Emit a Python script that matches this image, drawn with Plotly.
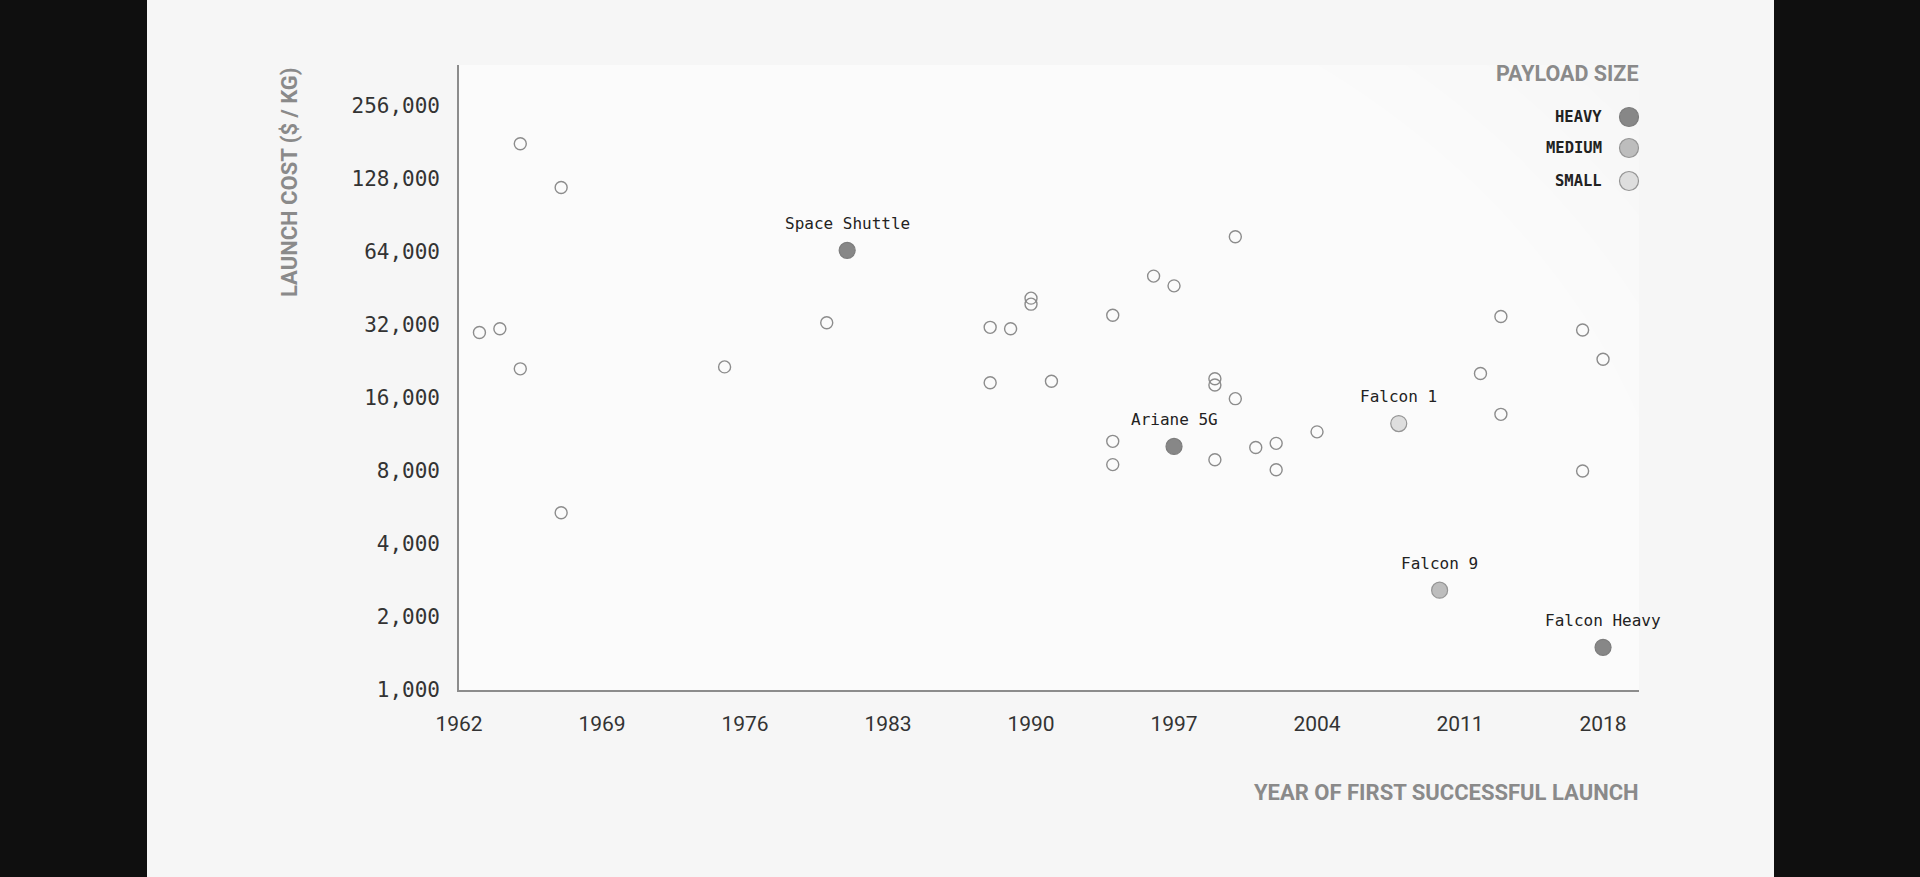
import plotly.graph_objects as go
import math

# ---------------- data ----------------
other_years = [1963, 1964, 1965, 1965, 1967, 1967, 1975, 1980, 1988, 1989,
               1990, 1990, 1988, 1991, 1994, 1996, 1997, 2000, 1994, 1994,
               1999, 1999, 2000, 1999, 2001, 2002, 2002, 2004, 2012, 2013,
               2013, 2017, 2018, 2017]
other_costs = [29800, 30900, 179000, 21100, 118000, 5380, 21500, 32700, 31300, 30900,
               41300, 39000, 18500, 18750, 35100, 50900, 46400, 74000, 10600, 8500,
               19200, 18100, 15900, 8900, 10000, 10400, 8100, 11600, 20200, 34700,
               13700, 30500, 23100, 8000]

named_names = ["Space Shuttle", "Ariane 5G", "Falcon 1", "Falcon 9", "Falcon Heavy"]
named_years = [1981, 1997, 2008, 2010, 2018]
named_costs = [65000, 10100, 12550, 2580, 1500]
named_payload = ["HEAVY", "HEAVY", "SMALL", "MEDIUM", "HEAVY"]

payload_classes = ["HEAVY", "MEDIUM", "SMALL"]
payload_fill = {"HEAVY": "#878787", "MEDIUM": "#bdbdbd", "SMALL": "#dedede"}
payload_line = {"HEAVY": "#7d7d7d", "MEDIUM": "#959595", "SMALL": "#959595"}

y_tickvals = [1000, 2000, 4000, 8000, 16000, 32000, 64000, 128000, 256000]
y_ticktext = ["1,000", "2,000", "4,000", "8,000", "16,000", "32,000", "64,000", "128,000", "256,000"]
x_tickvals = [1962, 1969, 1976, 1983, 1990, 1997, 2004, 2011, 2018]

# ---------------- layout constants (pixels) ----------------
W, H = 1920, 877
PL, PR, PT, PB = 459, 1639, 65, 690
pw, ph = PR - PL, PB - PT
X0, X1 = 1962, 2019.76

def px_x(p):
    return (p - PL) / pw

def px_y(p):
    return (PB - p) / ph

MONO = "DejaVu Sans Mono, Liberation Mono, monospace"
SANS = "Roboto, Inter, Noto Sans, sans-serif"
PANEL = "#f6f6f6"

fig = go.Figure()

# helper trace so the clipped x/y2 background layer exists
fig.add_trace(go.Scatter(x=[X0], y=[0], yaxis="y2", mode="markers",
                         marker=dict(opacity=0), hoverinfo="skip", showlegend=False))

fig.add_trace(go.Scatter(
    x=other_years, y=other_costs, mode="markers",
    marker=dict(size=12, color="rgba(255,255,255,0)",
                line=dict(color="#8c8c8c", width=1.4)),
    hoverinfo="x+y", showlegend=False,
))

fig.add_trace(go.Scatter(
    x=named_years, y=named_costs, mode="markers",
    marker=dict(size=16,
                color=[payload_fill[p] for p in named_payload],
                line=dict(color=[payload_line[p] for p in named_payload], width=1.2)),
    text=named_names, hoverinfo="text", showlegend=False,
))

annotations = []
for n, xv, yv in zip(named_names, named_years, named_costs):
    annotations.append(dict(
        x=xv, y=math.log10(yv), xref="x", yref="y", text=n, showarrow=False,
        xanchor="center", yanchor="middle", yshift=27,
        font=dict(family=MONO, size=16, color="#222222"),
    ))

# axis titles
annotations.append(dict(
    x=px_x(289), y=1.0, xref="paper", yref="paper", text="LAUNCH COST ($ / KG)",
    textangle=-90, showarrow=False, xanchor="center", yanchor="top",
    font=dict(family=SANS, size=22, color="#8a8a8a", weight="bold"),
))
annotations.append(dict(
    x=px_x(1641), y=px_y(792), xref="paper", yref="paper", text="YEAR OF FIRST SUCCESSFUL LAUNCH",
    showarrow=False, xanchor="right", yanchor="middle",
    font=dict(family=SANS, size=22, color="#8a8a8a", weight="bold"),
))
# legend
annotations.append(dict(
    x=px_x(1641), y=px_y(73), xref="paper", yref="paper", text="PAYLOAD SIZE",
    showarrow=False, xanchor="right", yanchor="middle",
    font=dict(family=SANS, size=21.5, color="#8a8a8a", weight="bold"),
))
legend_y = [117, 148, 181]
shapes = []
# panel background
shapes.append(dict(type="rect", xref="paper", yref="paper", layer="below",
                   x0=px_x(147), x1=px_x(1774), y0=-1, y1=2,
                   fillcolor=PANEL, line=dict(width=0)))
# soft radial glow, clipped to the plot area (x / y2 refs)
glow_x = X0 + (760 - PL) / pw * (X1 - X0)
for i in range(20):
    rx = 1150 - i * 55
    ry = rx * 0.8
    shapes.append(dict(type="circle", xref="x", yref="y2", layer="below",
                       xsizemode="pixel", ysizemode="pixel",
                       xanchor=glow_x, yanchor=px_y(660),
                       x0=-rx, x1=rx, y0=-ry, y1=ry,
                       fillcolor="rgba(255,255,255,0.2)", line=dict(width=0)))

for cls, ly in zip(payload_classes, legend_y):
    annotations.append(dict(
        x=px_x(1604), y=px_y(ly), xref="paper", yref="paper", text=cls,
        showarrow=False, xanchor="right", yanchor="middle",
        font=dict(family=MONO, size=15.5, color="#222222", weight="bold"),
    ))
    shapes.append(dict(type="circle", xref="paper", yref="paper",
                       xsizemode="pixel", ysizemode="pixel",
                       xanchor=px_x(1629), yanchor=px_y(ly),
                       x0=-9.5, x1=9.5, y0=-9.5, y1=9.5,
                       fillcolor=payload_fill[cls],
                       line=dict(color=payload_line[cls], width=1.2)))

fig.update_layout(
    width=W, height=H,
    margin=dict(l=PL, r=W - PR, t=PT, b=H - PB, pad=0),
    paper_bgcolor="#0f0f0f",
    plot_bgcolor="rgba(0,0,0,0)",
    showlegend=False,
    annotations=annotations,
    shapes=shapes,
    xaxis=dict(
        range=[X0, X1], tickvals=x_tickvals, ticks="",
        showgrid=False, zeroline=False,
        showline=True, linecolor="#8c8c8c", linewidth=1.6,
        tickfont=dict(family=SANS, size=21, color="#333333"),
        ticklabelstandoff=14,
    ),
    yaxis=dict(
        type="log", range=[3, 3 + (PB - PT) / 73 * math.log10(2)],
        tickvals=y_tickvals, ticktext=y_ticktext, ticks="",
        showgrid=False, zeroline=False,
        showline=True, linecolor="#8c8c8c", linewidth=1.6,
        tickfont=dict(family=MONO, size=21, color="#333333"),
        ticklabelstandoff=13,
    ),
    yaxis2=dict(
        overlaying="y", range=[0, 1], visible=False, showgrid=False,
        zeroline=False, fixedrange=True,
    ),
)

fig.write_html("out.html")
